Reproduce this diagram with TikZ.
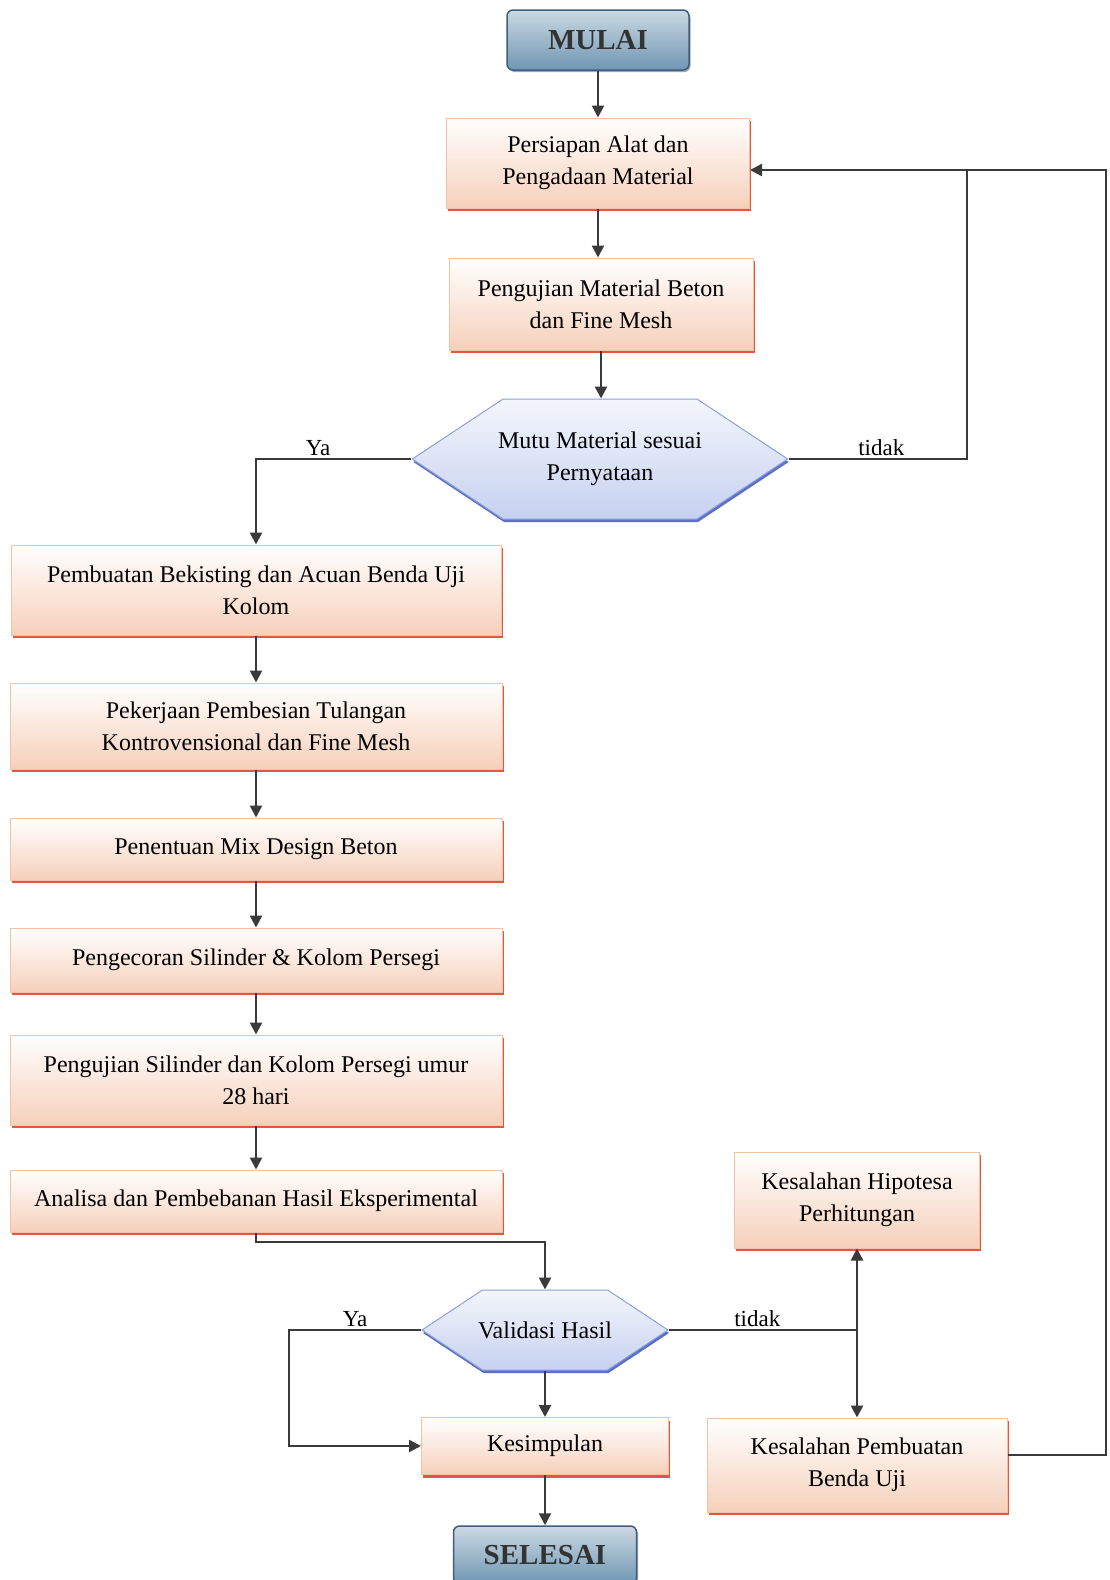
\documentclass[tikz,border=0pt]{standalone}
\usepackage{fontspec}
\setmainfont{Liberation Serif}
\usetikzlibrary{arrows.meta,positioning,shapes.symbols,shadows}
\definecolor{boxedge}{HTML}{F2C2A4}
\definecolor{boxfill}{HTML}{F6D0BA}
\definecolor{boxshade}{HTML}{E4563E}
\definecolor{hexedge}{HTML}{8C9FDC}
\definecolor{hexfill}{HTML}{C6D1F0}
\definecolor{hexshade}{HTML}{5B70C6}
\definecolor{termtop}{HTML}{CBD9E3}
\definecolor{termbot}{HTML}{6F96B3}
\definecolor{termedge}{HTML}{3F5D7C}
\definecolor{linecol}{HTML}{3A3A3A}

\begin{document}
\begin{tikzpicture}[
  x=1pt, y=-1pt,
  proc/.style={draw=boxedge, line width=1pt, top color=white, bottom color=boxfill,
    align=center, inner sep=0pt, font=\fontsize{24}{32}\selectfont,
    general shadow={fill=boxshade, shadow xshift=1.5pt, shadow yshift=-3pt}},
  decision/.style={signal, signal to=west and east, signal pointer angle=67,
    draw=hexedge, line width=1pt, top color=white!80!hexfill, bottom color=hexfill,
    align=center, inner ysep=0pt, inner xsep=-5pt, font=\fontsize{24}{32}\selectfont,
    general shadow={fill=hexshade, shadow xshift=1pt, shadow yshift=-3pt}},
  term/.style={draw=termedge, line width=1.5pt, rounded corners=6pt,
    top color=termtop, bottom color=termbot, inner sep=0pt,
    font=\fontsize{29}{32}\selectfont\bfseries, text=black!80,
    general shadow={fill=black!35, shadow xshift=1.5pt, shadow yshift=-2pt}},
  arr/.style={-{Triangle[length=12pt,width=12pt]}, line width=2.5pt, draw=linecol},
  line/.style={line width=2.5pt, draw=linecol},
  lbl/.style={font=\fontsize{23}{26}\selectfont, inner sep=2pt}
]
  \useasboundingbox (0,0) rectangle (1109,1580);

  % upper part
  \node[term, minimum width=182pt, minimum height=60pt] (mulai) at (598,40) {MULAI};
  \node[proc, minimum width=303pt, minimum height=90pt] (alat) at (598,163)
    {Persiapan Alat dan\\Pengadaan Material};
  \node[proc, minimum width=304pt, minimum height=92pt] (uji1) at (601,304)
    {Pengujian Material Beton\\dan Fine Mesh};
  \node[decision, minimum width=368pt, minimum height=120pt] (mutu) at (600,459)
    {Mutu Material sesuai\\Pernyataan};

  % left column
  \node[proc, minimum width=490pt, minimum height=90pt] (bek) at (256,590)
    {Pembuatan Bekisting dan Acuan Benda Uji\\Kolom};
  \node[proc, minimum width=492pt, minimum height=86pt] (besi) at (256,726)
    {Pekerjaan Pembesian Tulangan\\Kontrovensional dan Fine Mesh};
  \node[proc, minimum width=492pt, minimum height=62pt] (mix) at (256,849)
    {Penentuan Mix Design Beton};
  \node[proc, minimum width=492pt, minimum height=64pt] (cor) at (256,960)
    {Pengecoran Silinder \& Kolom Persegi};
  \node[proc, minimum width=492pt, minimum height=90pt] (silinder) at (256,1080)
    {Pengujian Silinder dan Kolom Persegi umur\\28 hari};
  \node[proc, minimum width=492pt, minimum height=62pt] (analisa) at (256,1201)
    {Analisa dan Pembebanan Hasil Eksperimental};

  % bottom part
  \node[decision, minimum width=246pt, minimum height=80pt] (valid) at (545,1330)
    {Validasi Hasil};
  \node[proc, minimum width=247pt, minimum height=57pt] (kesim) at (545,1446)
    {Kesimpulan};
  \node[proc, minimum width=245pt, minimum height=96pt] (hipo) at (857,1200)
    {Kesalahan Hipotesa\\Perhitungan};
  \node[proc, minimum width=300pt, minimum height=94pt] (uji2) at (857,1465)
    {Kesalahan Pembuatan\\Benda Uji};
  \node[term, minimum width=183pt, minimum height=58pt] (selesai) at (545,1555) {SELESAI};

  \coordinate (back) at (967,170);
  \coordinate (edge) at (1106,1455);
  \coordinate (turn) at (545,1242);
  \coordinate (ya2) at (289,1330);
  \coordinate (split) at (857,1330);

  \draw[arr] (mulai.south) -- (mulai.south |- alat.north);
  \draw[arr] (alat.south) -- (alat.south |- uji1.north);
  \draw[arr] (uji1.south) -- (uji1.south |- mutu.north);
  \draw[arr] (mutu.west) -| node[lbl, above, pos=0.3] {Ya} (bek.north);
  \draw[line] (mutu.east) -| node[lbl, above, pos=0.26] {tidak} (back);
  \draw[arr] (back) -- (back -| alat.east);

  \draw[arr] (bek) -- (besi);
  \draw[arr] (besi) -- (mix);
  \draw[arr] (mix) -- (cor);
  \draw[arr] (cor) -- (silinder);
  \draw[arr] (silinder) -- (analisa);
  \draw[arr] (analisa.south) |- (turn) -- (valid.north);

  \draw[arr] (valid.west) -- node[lbl, above, pos=0.5] {Ya} (ya2) |- (kesim.west);
  \draw[line] (valid.east) -- node[lbl, above, pos=0.47] {tidak} (split);
  \draw[arr] (split) -- (hipo.south);
  \draw[arr] (split) -- (uji2.north);
  \draw[arr] (valid.south) -- (valid.south |- kesim.north);
  \draw[arr] (kesim.south) -- (kesim.south |- selesai.north);

  \draw[line, line width=2pt] (uji2.east |- edge) -- (edge) |- (back);
\end{tikzpicture}
\end{document}
